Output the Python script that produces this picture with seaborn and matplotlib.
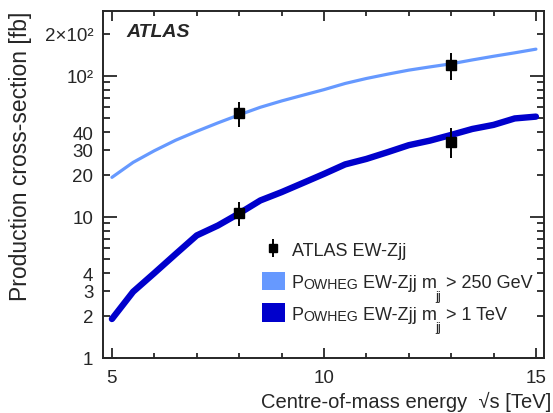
import matplotlib
matplotlib.use("Agg")
import matplotlib.pyplot as plt
from matplotlib.patches import Patch
from matplotlib.ticker import FixedLocator, FixedFormatter
import pandas as pd
import seaborn as sns

# Powheg predictions vs centre-of-mass energy
energy = [5, 5.5, 6, 6.5, 7, 7.5, 8, 8.5, 9, 9.5, 10, 10.5, 11, 11.5,
          12, 12.5, 13, 13.5, 14, 14.5, 15]
xs_mjj250 = [19.1, 24.4, 29.5, 35.0, 40.5, 46.5, 53.0, 60.0, 66.5, 73.0, 80.0,
             88.5, 96.0, 103.0, 110.0, 116.0, 122.0, 130.0, 138.0, 146.0, 155.0]
xs_mjj1tev = [1.89, 2.95, 4.0, 5.45, 7.4, 8.7, 10.6, 13.1, 15.0, 17.4, 20.2,
              23.6, 25.8, 28.8, 32.3, 34.8, 38.2, 42.1, 45.0, 50.0, 51.5]

# ATLAS measurements
meas_energy = [8, 8, 13, 13]
meas_xs = [54.7, 10.7, 120.0, 34.2]
meas_err_up = [11.0, 2.1, 26.0, 8.3]
meas_err_down = [11.4, 2.1, 26.0, 8.0]

ytick_major = [1, 10, 100]
ytick_major_labels = ["1", "10", "10²"]
ytick_minor = [2, 3, 4, 5, 6, 7, 8, 9, 20, 30, 40, 50, 60, 70, 80, 90, 200]
ytick_minor_labels = ["2", "3", "4", "", "", "", "", "", "20", "30", "40",
                      "", "", "", "", "", "2×10²"]

light = "#6699ff"
dark = "#0000cc"

sns.set_style("ticks")
plt.rcParams["font.family"] = ["Liberation Sans", "DejaVu Sans"]

df = pd.DataFrame({"energy": energy, "m250": xs_mjj250, "m1000": xs_mjj1tev})

fig = plt.figure(figsize=(5.53, 4.14), dpi=100)
ax = fig.add_axes([0.1863, 0.1329, 0.7974, 0.8381])

sns.lineplot(data=df, x="energy", y="m250", color=light, lw=2.3, ax=ax)
sns.lineplot(data=df, x="energy", y="m1000", color=dark, lw=4.6, ax=ax)
eb = ax.errorbar(meas_energy, meas_xs, yerr=[meas_err_down, meas_err_up],
                 fmt="s", color="black", ms=7.5, elinewidth=1.4, capsize=0, zorder=4)

ax.set_yscale("log")
ax.set_xlim(4.79, 15.19)
ax.set_ylim(1, 289)

ax.yaxis.set_major_locator(FixedLocator(ytick_major))
ax.yaxis.set_major_formatter(FixedFormatter(ytick_major_labels))
ax.yaxis.set_minor_locator(FixedLocator(ytick_minor))
ax.yaxis.set_minor_formatter(FixedFormatter(ytick_minor_labels))
ax.set_xticks([5, 10, 15])
ax.set_xticks(range(5, 16), minor=True)

ax.tick_params(which="both", direction="in", top=True, right=True,
               width=1.3, labelsize=13.5)
ax.tick_params(axis="y", which="major", length=10, pad=7)
ax.tick_params(axis="y", which="minor", length=5, pad=7)
ax.tick_params(axis="x", which="major", length=7, pad=8)
ax.tick_params(axis="x", which="minor", length=3.5)
for s in ax.spines.values():
    s.set_linewidth(1.4)

ax.set_xlabel("Centre-of-mass energy  √s [TeV]", fontsize=14.5, loc="right")
ax.set_ylabel("Production cross-section [fb]", fontsize=16.5, loc="top")
ax.xaxis.set_label_coords(1.016, -0.095)
ax.yaxis.set_label_coords(-0.162, 1.0)

ax.text(0.054, 0.94, "ATLAS", transform=ax.transAxes, fontsize=14,
        fontweight="bold", fontstyle="italic", va="center", ha="left")

handles = [eb, Patch(facecolor=light, edgecolor="none"),
           Patch(facecolor=dark, edgecolor="none")]
leg = ax.legend(handles, ["ATLAS EW-Zjj", "P", "P"], loc="upper left",
                bbox_to_anchor=(0.36, 0.34), frameon=False, fontsize=13,
                handlelength=1.28, handleheight=1.22, handletextpad=0.38,
                labelspacing=0.67, borderpad=0, borderaxespad=0,
                markerscale=0.75)

fig.canvas.draw()
sub_text = [" > 250 GeV", " > 1 TeV"]
for t0, tail in zip(leg.get_texts()[1:], sub_text):
    t1 = ax.annotate("OWHEG", xy=(1, 0), xycoords=t0, fontsize=10.2,
                     va="bottom", ha="left", zorder=6)
    t2 = ax.annotate(" EW-Zjj m", xy=(1, 0), xycoords=(t1, t0), fontsize=13,
                     va="bottom", ha="left", zorder=6)
    t3 = ax.annotate("jj", xy=(1, 0), xycoords=(t2, t0), xytext=(-1.2, -7.8),
                     textcoords="offset points", fontsize=9.3, va="bottom",
                     ha="left", zorder=6)
    ax.annotate(tail, xy=(1, 0), xycoords=(t3, t0), fontsize=13,
                va="bottom", ha="left", zorder=6)

fig.savefig("out.png", dpi=100)
